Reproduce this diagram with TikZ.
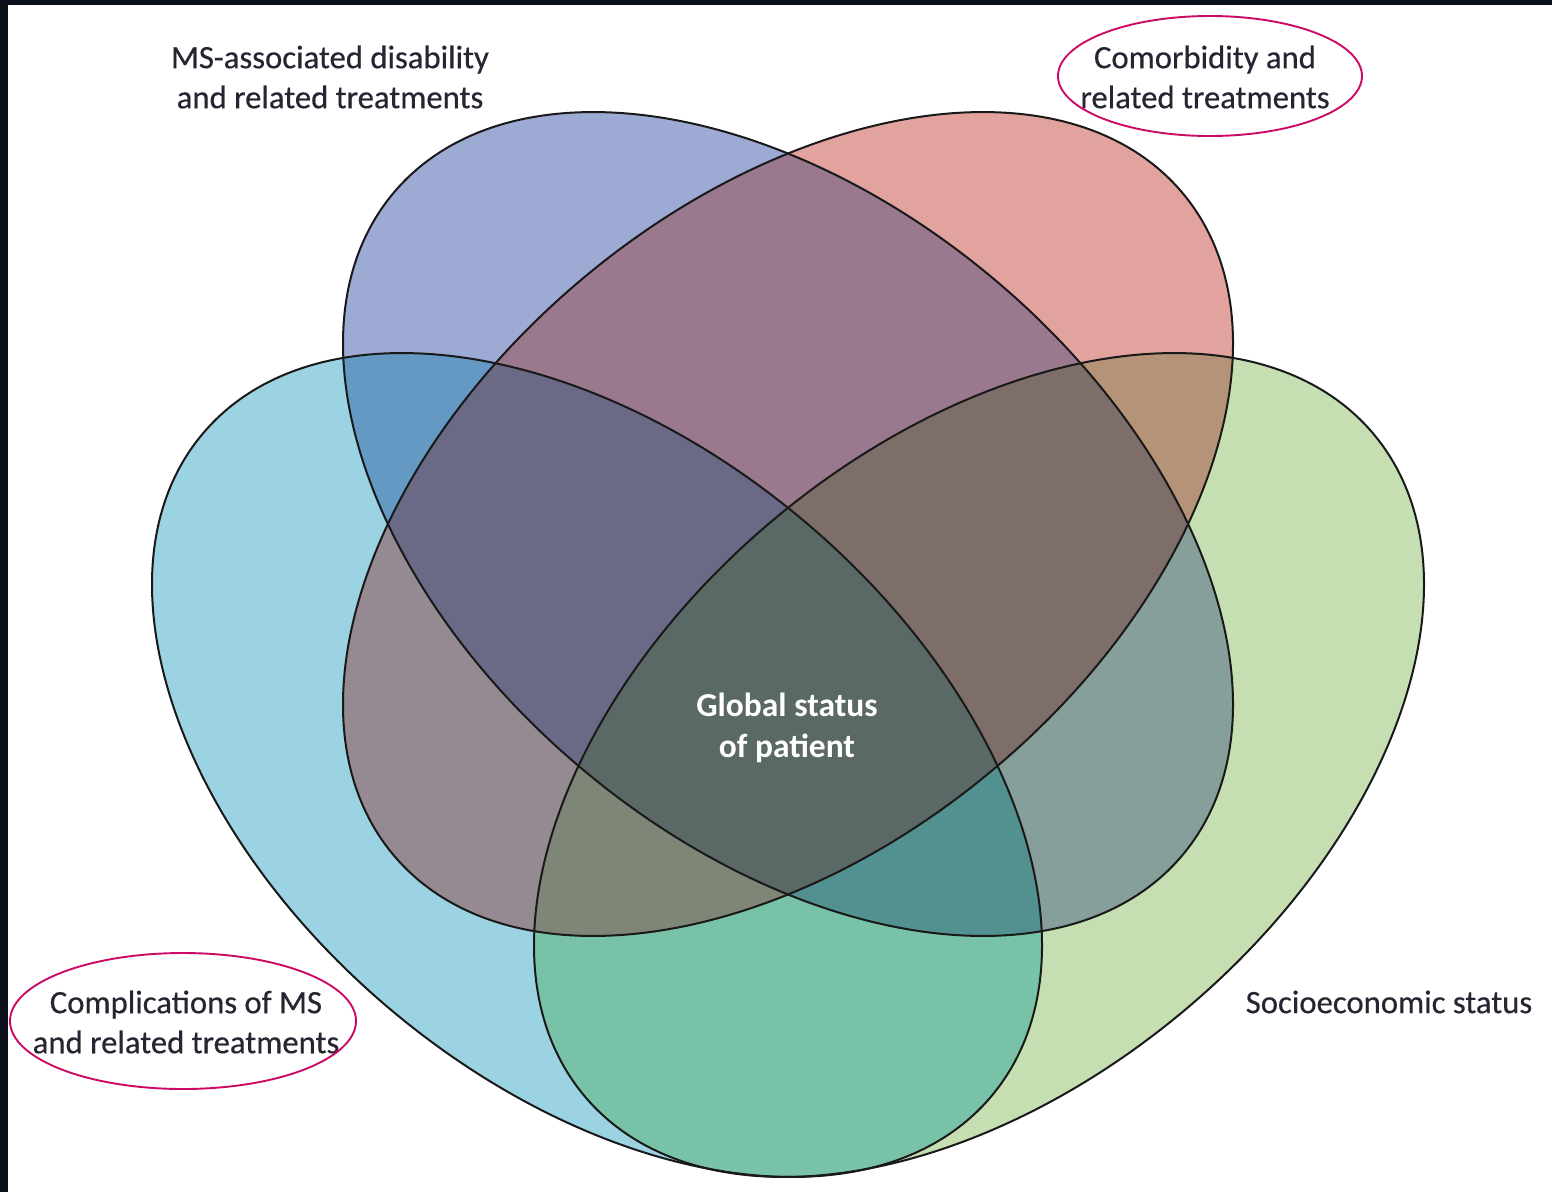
\documentclass[tikz,border=0pt]{standalone}
\usepackage{fontspec}
\setmainfont{Carlito}
\newfontfamily\labelfont[FakeBold=0.4]{Carlito}
\definecolor{cL}{HTML}{9BD3E3}
\definecolor{cG}{HTML}{C6DFB2}
\definecolor{cB}{HTML}{9DABD4}
\definecolor{cR}{HTML}{E2A39E}
\definecolor{cBR}{HTML}{9A788E}
\definecolor{cBL}{HTML}{6499C3}
\definecolor{cBG}{HTML}{869F9A}
\definecolor{cRL}{HTML}{958A92}
\definecolor{cRG}{HTML}{B59378}
\definecolor{cLG}{HTML}{78C3A8}
\definecolor{cBRL}{HTML}{6A6A86}
\definecolor{cBRG}{HTML}{7D6E6A}
\definecolor{cBLG}{HTML}{52918F}
\definecolor{cRLG}{HTML}{7E8777}
\definecolor{cAll}{HTML}{5A6866}
\definecolor{ringred}{HTML}{CC0A66}
\definecolor{labeltext}{HTML}{262632}
\definecolor{framecol}{HTML}{0B101B}
% the four congruent ellipses (B: disability, R: comorbidity,
% L: complications, G: socioeconomic)
\newcommand{\ellB}{[shift={(788,524)},rotate=-40] (0,0) ellipse [x radius=515pt, y radius=320pt]}
\newcommand{\ellR}{[shift={(788,524)},rotate=40] (0,0) ellipse [x radius=515pt, y radius=320pt]}
\newcommand{\ellL}{[shift={(597,765)},rotate=-40] (0,0) ellipse [x radius=515pt, y radius=320pt]}
\newcommand{\ellG}{[shift={(979,765)},rotate=40] (0,0) ellipse [x radius=515pt, y radius=320pt]}
% fill the overlap of two sets
\newcommand{\zonetwo}[3]{\begin{scope}\clip#1;\fill[#3]#2;\end{scope}}
% fill the overlap of three sets
\newcommand{\zonethree}[4]{\begin{scope}\clip#1;\clip#2;\fill[#4]#3;\end{scope}}
\begin{document}
\begin{tikzpicture}[x=1pt,y=-1pt,
  outline/.style={draw=black!90, line width=2pt},
  tag/.style={font=\labelfont\fontsize{32.7}{40}\selectfont, text=labeltext, align=center, inner sep=0pt},
  ring/.style={draw=ringred, line width=1.9pt}]
\useasboundingbox (0,0) rectangle (1552,1192);
\fill[white] (0,0) rectangle (1552,1192);

% single sets
\fill[cL]\ellL;
\fill[cG]\ellG;
\fill[cB]\ellB;
\fill[cR]\ellR;

% pairwise overlaps
\zonetwo{\ellB}{\ellR}{cBR}
\zonetwo{\ellB}{\ellL}{cBL}
\zonetwo{\ellB}{\ellG}{cBG}
\zonetwo{\ellR}{\ellL}{cRL}
\zonetwo{\ellR}{\ellG}{cRG}
\zonetwo{\ellL}{\ellG}{cLG}

% triple overlaps
\zonethree{\ellB}{\ellR}{\ellL}{cBRL}
\zonethree{\ellB}{\ellR}{\ellG}{cBRG}
\zonethree{\ellB}{\ellL}{\ellG}{cBLG}
\zonethree{\ellR}{\ellL}{\ellG}{cRLG}

% all four sets
\begin{scope}
  \clip\ellB; \clip\ellR; \clip\ellL;
  \fill[cAll]\ellG;
\end{scope}

% outlines
\draw[outline]\ellL;
\draw[outline]\ellG;
\draw[outline]\ellB;
\draw[outline]\ellR;

% labels
\node[tag] (msdis) at (330,77) {MS-associated disability\\and related treatments};
\node[tag] (comorb) at (1205,77) {Comorbidity and\\related treatments};
\node[tag] (compl) at (186,1022) {Complications of MS\\and related treatments};
\node[tag] (socio) at (1389,1002) {Socioeconomic status};
\node[tag, text=white, font=\fontsize{33.5}{41}\selectfont\bfseries] (global) at (787,728) {Global status\\of patient};

% highlight rings
\draw[ring] (1210,76) ellipse [x radius=152pt, y radius=60pt];
\draw[ring] (183,1021) ellipse [x radius=173pt, y radius=68pt];

% dark frame along top and left edges
\fill[framecol] (0,0) rectangle (1552,5);
\fill[framecol] (0,0) rectangle (8,1192);
\end{tikzpicture}
\end{document}
